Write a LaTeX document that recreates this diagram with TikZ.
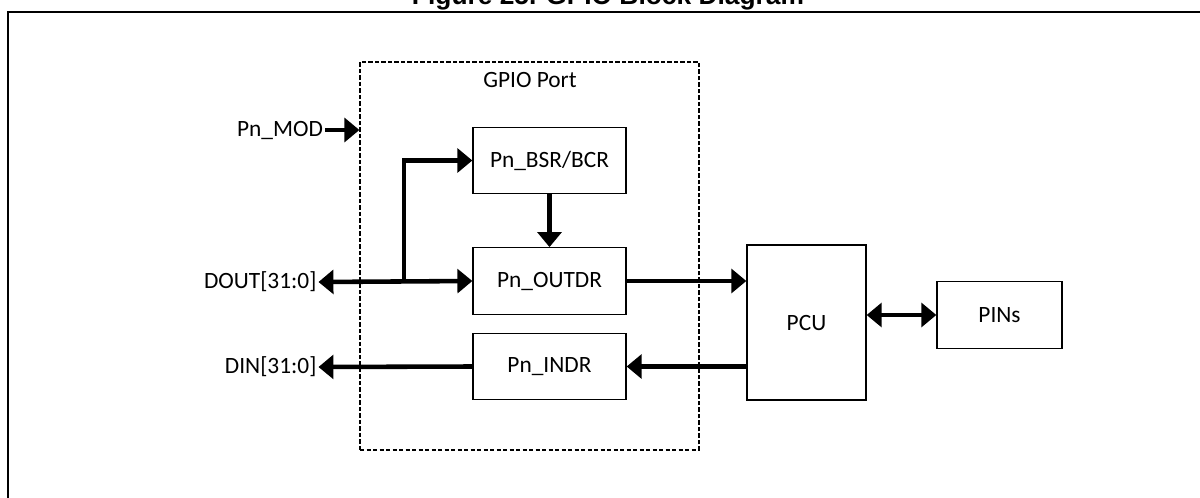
\documentclass[tikz,border=0pt]{standalone}
\usepackage{fontspec}
\setmainfont{Carlito}
\newfontfamily\titlefont{Liberation Sans}
\usetikzlibrary{arrows.meta}

\begin{document}
\begin{tikzpicture}[x=0.02cm, y=-0.02cm,
    font=\fontsize{13.3}{16}\selectfont,
    block/.style={draw, line width=0.75pt, rectangle, minimum height=1.33cm},
    lbl/.style={inner sep=1pt},
    bus/.style={line width=2.6pt, -{Triangle[length=8.5pt, width=13.5pt]}},
    bibus/.style={line width=2.6pt, {Triangle[length=8.5pt, width=13.5pt]}-{Triangle[length=8.5pt, width=13.5pt]}}]
    \useasboundingbox (0,0) rectangle (1200,497);

    % frame and caption
    \node[anchor=base, inner sep=0pt, font=\titlefont\bfseries\fontsize{15}{18}\selectfont] (title) at (608,5) {Figure 25. GPIO Block Diagram};
    \draw[line width=1.7pt] (8,520) -- (8,12) -- (1230,12);

    % GPIO port
    \node[draw, dash pattern=on 2.5pt off 1.2pt, line width=0.7pt, minimum width=6.78cm, minimum height=7.76cm] (port) at (529.5,256) {};
    \node (portlbl) at (530,80) {GPIO Port};

    \node[block, minimum width=3.06cm] (bsr) at (549.5,160.5) {Pn\_BSR/BCR};
    \node[block, minimum width=3.06cm] (outdr) at (549.5,281) {Pn\_OUTDR};
    \node[block, minimum width=3.06cm] (indr) at (549.5,366.5) {Pn\_INDR};
    \node[block, minimum width=2.38cm, minimum height=3.1cm] (pcu) at (806.5,322.5) {PCU};
    \node[block, minimum width=2.5cm] (pins) at (999.5,315) {PINs};

    \node[lbl, anchor=east] (mod) at (325,130) {Pn\_MOD};
    \node[lbl, anchor=east] (dout) at (318.5,282) {DOUT[31:0]};
    \node[lbl, anchor=east] (din) at (318.5,367) {DIN[31:0]};
    \coordinate (split) at (404,282);

    % buses
    \draw[bus] (mod.east) -- (mod.east -| port.west);
    \draw[bibus] (dout.east) -- (outdr.west);
    \draw[bus] (split) |- (bsr.west);
    \draw[bus] (bsr.south) -- (outdr.north);
    \draw[bus] (outdr.east) -- (outdr.east -| pcu.west);
    \draw[bus] (indr.east -| pcu.west) -- (indr.east);
    \draw[bus] (indr.west) -- (din.east);
    \draw[bibus] (pins.west -| pcu.east) -- (pins.west);
\end{tikzpicture}
\end{document}
